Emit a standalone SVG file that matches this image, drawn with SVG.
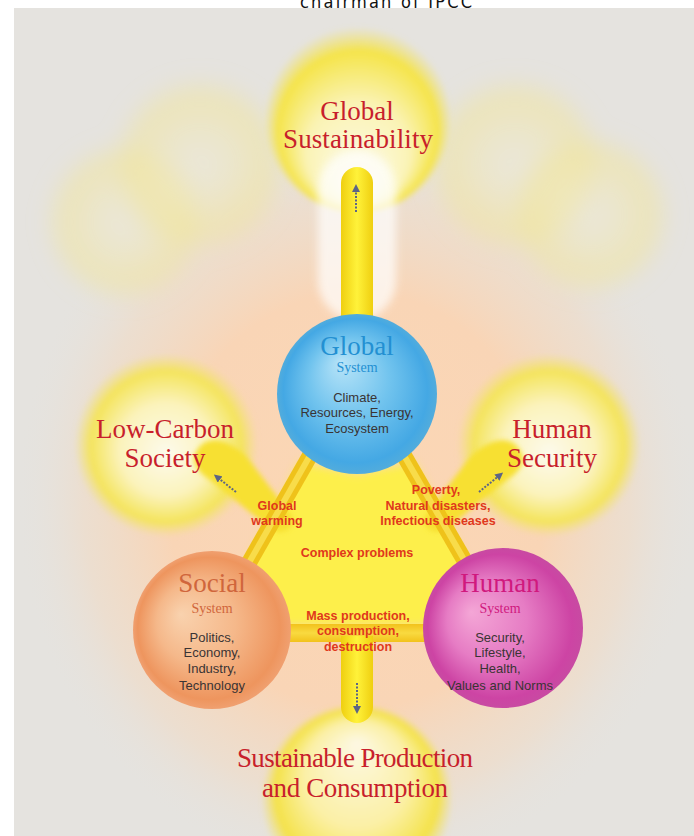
<svg xmlns="http://www.w3.org/2000/svg" width="694" height="836" viewBox="0 0 694 836">
  <style>
    .serif { font-family: "Liberation Serif", "DejaVu Serif", serif; text-anchor: middle; }
    .outcome { fill: #c81f2c; font-size: 27px; }
    .title { font-size: 27px; }
    .sub { font-size: 14px; }
    .body { font-family: "Liberation Sans", Arial, sans-serif; font-size: 13px; fill: #3a3434; text-anchor: middle; }
    .issue { font-family: "Liberation Sans", Arial, sans-serif; font-size: 12.5px; font-weight: bold; fill: #e0381c; text-anchor: middle; }
    .arrow { stroke: #5d6585; stroke-width: 2; stroke-dasharray: 2 1.5; fill: none; }
  </style>
  <defs>
    <filter id="soft" x="-30%" y="-30%" width="160%" height="160%">
      <feGaussianBlur stdDeviation="10"/>
    </filter>
    <filter id="softer" x="-30%" y="-30%" width="160%" height="160%">
      <feGaussianBlur stdDeviation="4"/>
    </filter>
    <filter id="edge" x="-10%" y="-10%" width="120%" height="120%">
      <feGaussianBlur stdDeviation="2.5"/>
    </filter>
    <radialGradient id="peach" cx="357" cy="500" r="360" gradientUnits="userSpaceOnUse" gradientTransform="translate(357 500) scale(0.95 1.05) translate(-357 -500)">
      <stop offset="0" stop-color="#fcd7b4"/>
      <stop offset="0.55" stop-color="#f9d5b6"/>
      <stop offset="0.8" stop-color="#efdcc9" stop-opacity="0.7"/>
      <stop offset="1" stop-color="#e5e3df" stop-opacity="0"/>
    </radialGradient>
    <radialGradient id="bubbleTop" cx="0.5" cy="0.5" r="0.5" fx="0.5" fy="0.9">
      <stop offset="0" stop-color="#fdfbf0"/>
      <stop offset="0.55" stop-color="#faf3b4"/>
      <stop offset="0.85" stop-color="#f5e44a"/>
      <stop offset="1" stop-color="#f2e36a" stop-opacity="0"/>
    </radialGradient>
    <radialGradient id="bubbleSide" cx="0.5" cy="0.5" r="0.5" fx="0.5" fy="0.55">
      <stop offset="0" stop-color="#fdfaec"/>
      <stop offset="0.5" stop-color="#fbf3bc"/>
      <stop offset="0.82" stop-color="#f4e45c"/>
      <stop offset="1" stop-color="#f1e27a" stop-opacity="0"/>
    </radialGradient>
    <radialGradient id="bubbleBottom" cx="0.5" cy="0.5" r="0.5" fx="0.5" fy="0.2">
      <stop offset="0" stop-color="#fdf8e4"/>
      <stop offset="0.55" stop-color="#fbf0a6"/>
      <stop offset="0.85" stop-color="#f4e24a"/>
      <stop offset="1" stop-color="#f1e06a" stop-opacity="0"/>
    </radialGradient>
    <radialGradient id="lobe" cx="0.5" cy="0.5" r="0.5">
      <stop offset="0" stop-color="#f2ecd0" stop-opacity="0.4"/>
      <stop offset="0.75" stop-color="#f2e69a" stop-opacity="0.55"/>
      <stop offset="1" stop-color="#efe3a0" stop-opacity="0"/>
    </radialGradient>
    <radialGradient id="blue" cx="0.5" cy="0.5" r="0.5" fx="0.4" fy="0.3">
      <stop offset="0" stop-color="#b8e4f8"/>
      <stop offset="0.5" stop-color="#72c4ee"/>
      <stop offset="0.9" stop-color="#44a8e4"/>
      <stop offset="1" stop-color="#52acdc"/>
    </radialGradient>
    <radialGradient id="orange" cx="0.5" cy="0.5" r="0.5" fx="0.3" fy="0.4">
      <stop offset="0" stop-color="#f9d2ae"/>
      <stop offset="0.5" stop-color="#f5b88a"/>
      <stop offset="0.9" stop-color="#ee955e"/>
      <stop offset="1" stop-color="#f0a070"/>
    </radialGradient>
    <radialGradient id="magenta" cx="0.5" cy="0.5" r="0.5" fx="0.3" fy="0.4">
      <stop offset="0" stop-color="#f4a6d6"/>
      <stop offset="0.5" stop-color="#e67cc4"/>
      <stop offset="0.9" stop-color="#cd44a4"/>
      <stop offset="1" stop-color="#c84aa2"/>
    </radialGradient>
    <linearGradient id="stemV" x1="0" y1="0" x2="1" y2="0">
      <stop offset="0" stop-color="#efcf10"/>
      <stop offset="0.5" stop-color="#fff23a"/>
      <stop offset="1" stop-color="#efcf10"/>
    </linearGradient>
    <linearGradient id="bandH" x1="0" y1="0" x2="0" y2="1">
      <stop offset="0" stop-color="#f2c21c"/>
      <stop offset="0.5" stop-color="#f9da40"/>
      <stop offset="1" stop-color="#f2c21c"/>
    </linearGradient>
    <marker id="head" viewBox="0 0 8 8" refX="4" refY="4" markerWidth="4" markerHeight="4" orient="auto">
      <path d="M0,0 L8,4 L0,8 Z" fill="#5d6585"/>
    </marker>
  </defs>

  <!-- page and caption line partly hidden by the artwork -->
  <rect width="694" height="836" fill="#ffffff"/>
  <text x="386" y="8" font-family="DejaVu Sans Condensed, DejaVu Sans, sans-serif" font-size="18" text-anchor="middle" textLength="172" fill="#111">chairman of IPCC</text>

  <g id="background">
    <rect x="14" y="8" width="680" height="828" fill="#e5e3df"/>
    <ellipse cx="357" cy="500" rx="345" ry="380" fill="url(#peach)"/>
    <!-- faint cloud lobes behind the top bubble -->
    <g filter="url(#soft)">
      <circle cx="125" cy="222" r="82" fill="url(#lobe)"/>
      <circle cx="200" cy="165" r="90" fill="url(#lobe)"/>
      <circle cx="515" cy="165" r="90" fill="url(#lobe)"/>
      <circle cx="590" cy="215" r="82" fill="url(#lobe)"/>
    </g>
  </g>

  <!-- outcome bubbles -->
  <g id="global-sustainability">
    <circle cx="358" cy="120" r="94" fill="url(#bubbleTop)" filter="url(#edge)"/>
  </g>
  <g id="low-carbon-society">
    <circle cx="166" cy="445" r="92" fill="url(#bubbleSide)" filter="url(#edge)"/>
  </g>
  <g id="human-security">
    <circle cx="549" cy="445" r="92" fill="url(#bubbleSide)" filter="url(#edge)"/>
  </g>
  <g id="sustainable-production">
    <circle cx="357" cy="800" r="96" fill="url(#bubbleBottom)" filter="url(#edge)"/>
  </g>

  <g id="connectors">
    <!-- white halo round the upward stem -->
    <rect x="318" y="150" width="78" height="170" rx="39" fill="#ffffff" opacity="0.7" filter="url(#softer)"/>
    <!-- bright core between the three systems -->
    <path d="M300,462 L357,474 L414,462 L472,572 L440,626 L274,626 L242,572 Z" fill="#fdef4c" filter="url(#softer)"/>
    <!-- arms reaching out to the side bubbles, widest at the outer end -->
    <path d="M196,452 C206,432 230,440 246,456 L292,516 C296,528 284,536 272,530 L210,480 C198,472 190,462 196,452 Z" fill="#f7e030" filter="url(#edge)"/>
    <path d="M521,452 C511,432 487,440 471,456 L425,516 C421,528 433,536 445,530 L507,480 C519,472 527,462 521,452 Z" fill="#f7e030" filter="url(#edge)"/>
    <!-- legs from the global system down to the social and human systems -->
    <path d="M312,452 L246,568" stroke="#efc21a" stroke-width="16"/>
    <path d="M312,452 L246,568" stroke="#f8dc4a" stroke-width="6"/>
    <path d="M402,452 L470,570" stroke="#efc21a" stroke-width="16"/>
    <path d="M402,452 L470,570" stroke="#f8dc4a" stroke-width="6"/>
    <!-- upward stem -->
    <path d="M341,335 L341,183 A16,16 0 0 1 373,183 L373,335 Z" fill="url(#stemV)"/>
    <!-- horizontal band between social and human systems -->
    <rect x="285" y="624" width="145" height="18" fill="url(#bandH)"/>
    <!-- downward stem -->
    <path d="M341,636 L341,707 A16,16 0 0 0 373,707 L373,636 Z" fill="url(#stemV)"/>
    <!-- direction arrows -->
    <path class="arrow" d="M356,212 L356,188" marker-end="url(#head)"/>
    <path class="arrow" d="M357,683 L357,710" marker-end="url(#head)"/>
    <path class="arrow" d="M236,492 L217,477" marker-end="url(#head)"/>
    <path class="arrow" d="M479,492 L500,475" marker-end="url(#head)"/>
  </g>

  <g id="global-system">
    <circle cx="357" cy="394" r="80" fill="url(#blue)"/>
    <text class="serif title" x="357" y="355" fill="#2390d2">Global</text>
    <text class="serif sub" x="357" y="372" fill="#2390d2">System</text>
    <text class="body" x="357" y="402">Climate,</text>
    <text class="body" x="357" y="417">Resources, Energy,</text>
    <text class="body" x="357" y="433">Ecosystem</text>
  </g>

  <g id="social-system">
    <circle cx="212" cy="630" r="79" fill="url(#orange)"/>
    <text class="serif title" x="212" y="592" fill="#d0663c">Social</text>
    <text class="serif sub" x="212" y="613" fill="#d0663c">System</text>
    <text class="body" x="212" y="642">Politics,</text>
    <text class="body" x="212" y="657">Economy,</text>
    <text class="body" x="212" y="673">Industry,</text>
    <text class="body" x="212" y="690">Technology</text>
  </g>

  <g id="human-system">
    <circle cx="503" cy="628" r="80" fill="url(#magenta)"/>
    <text class="serif title" x="500" y="592" fill="#d0197e">Human</text>
    <text class="serif sub" x="500" y="613" fill="#d0197e">System</text>
    <text class="body" x="500" y="642">Security,</text>
    <text class="body" x="500" y="657">Lifestyle,</text>
    <text class="body" x="500" y="673">Health,</text>
    <text class="body" x="500" y="690">Values and Norms</text>
  </g>

  <!-- outcome labels -->
  <g id="outcome-labels">
    <text class="serif outcome" x="357" y="120">Global</text>
    <text class="serif outcome" x="358" y="148" textLength="150">Sustainability</text>
    <text class="serif outcome" x="165" y="438">Low-Carbon</text>
    <text class="serif outcome" x="165" y="467">Society</text>
    <text class="serif outcome" x="552" y="438">Human</text>
    <text class="serif outcome" x="552" y="467">Security</text>
    <text class="serif outcome" x="355" y="767" font-size="25" textLength="236">Sustainable Production</text>
    <text class="serif outcome" x="355" y="797" font-size="25" textLength="186">and Consumption</text>
  </g>

  <!-- problem labels on the connectors -->
  <g id="problem-labels">
    <text class="issue" x="277" y="510">Global</text>
    <text class="issue" x="277" y="525">warming</text>
    <text class="issue" x="436" y="494">Poverty,</text>
    <text class="issue" x="438" y="510">Natural disasters,</text>
    <text class="issue" x="438" y="525">Infectious diseases</text>
    <text class="issue" x="357" y="557" fill="#c8301a">Complex problems</text>
    <text class="issue" x="358" y="620">Mass production,</text>
    <text class="issue" x="358" y="635">consumption,</text>
    <text class="issue" x="358" y="651">destruction</text>
  </g>
</svg>
